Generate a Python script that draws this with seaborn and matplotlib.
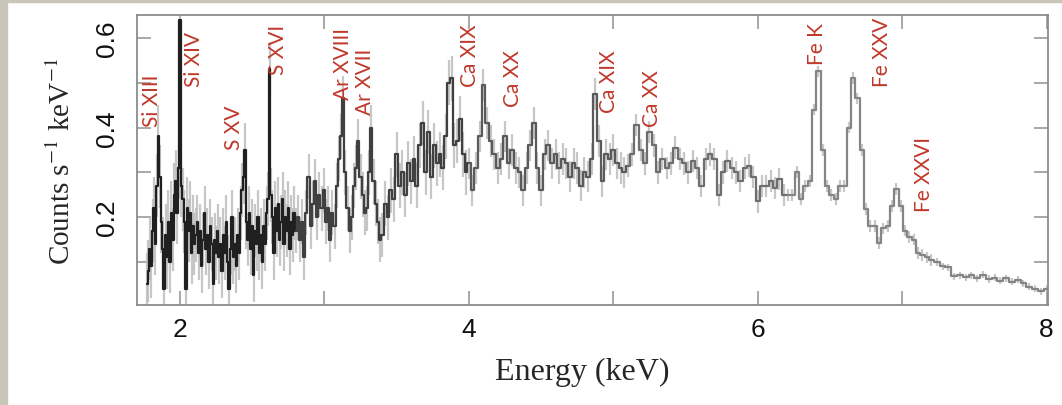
import numpy as np
import pandas as pd
import matplotlib
matplotlib.use("Agg")
import matplotlib.pyplot as plt
import seaborn as sns
from matplotlib.patches import Rectangle

# ---------------- data ----------------
energy_a = [1.77, 1.78, 1.79, 1.80, 1.81, 1.82, 1.83, 1.84, 1.85, 1.86, 1.87, 1.88,
            1.89, 1.90, 1.91, 1.92, 1.93, 1.94, 1.95, 1.96, 1.97, 1.98, 1.99, 2.00,
            2.01, 2.02, 2.03, 2.04, 2.05, 2.06, 2.07, 2.08, 2.09, 2.10]
counts_a = [0.05, 0.08, 0.13, 0.09, 0.17, 0.22, 0.14, 0.27, 0.38, 0.29, 0.19, 0.13,
            0.04, 0.16, 0.11, 0.19, 0.10, 0.21, 0.15, 0.25, 0.28, 0.21, 0.31, 0.64,
            0.27, 0.24, 0.19, 0.04, 0.22, 0.17, 0.21, 0.12, 0.18, 0.14]

energy_b = [2.11, 2.12, 2.13, 2.14, 2.15, 2.16, 2.17, 2.18, 2.19, 2.20, 2.21, 2.22,
            2.23, 2.24, 2.25, 2.26, 2.27, 2.28, 2.29, 2.30, 2.31, 2.32, 2.33, 2.34,
            2.35, 2.36, 2.37, 2.38, 2.39, 2.40, 2.41, 2.42, 2.43, 2.44, 2.45, 2.46,
            2.47, 2.48, 2.49, 2.50, 2.51, 2.52, 2.53, 2.54, 2.55, 2.56, 2.57, 2.58,
            2.59, 2.60, 2.61, 2.62, 2.63, 2.64, 2.65, 2.66, 2.67, 2.68, 2.69, 2.70,
            2.71, 2.72, 2.73, 2.74, 2.75, 2.76, 2.77, 2.78, 2.79]
counts_b = [0.16, 0.19, 0.12, 0.17, 0.09, 0.15, 0.21, 0.13, 0.16, 0.10, 0.18, 0.14,
            0.05, 0.15, 0.12, 0.17, 0.11, 0.14, 0.08, 0.16, 0.12, 0.19, 0.10, 0.04,
            0.13, 0.20, 0.11, 0.14, 0.09, 0.16, 0.12, 0.21, 0.26, 0.29, 0.35, 0.19,
            0.15, 0.21, 0.13, 0.18, 0.07, 0.17, 0.14, 0.20, 0.12, 0.16, 0.10, 0.18,
            0.14, 0.21, 0.24, 0.53, 0.25, 0.20, 0.12, 0.22, 0.17, 0.23, 0.15, 0.19,
            0.24, 0.14, 0.20, 0.17, 0.22, 0.13, 0.19, 0.16, 0.21]

energy_c = [2.800, 2.815, 2.830, 2.845, 2.860, 2.875, 2.890, 2.905, 2.920, 2.935,
            2.950, 2.965, 2.980, 2.995, 3.010, 3.025, 3.040, 3.055, 3.070, 3.085,
            3.100, 3.115, 3.130, 3.145, 3.160, 3.175, 3.190, 3.205, 3.220, 3.235,
            3.250, 3.265, 3.280, 3.295, 3.310, 3.325, 3.340, 3.355, 3.370, 3.385,
            3.400, 3.42, 3.44, 3.46, 3.48, 3.50, 3.52, 3.54, 3.56, 3.58, 3.60, 3.62,
            3.64, 3.66, 3.68, 3.70, 3.72, 3.74, 3.76, 3.78, 3.80, 3.82, 3.84, 3.86,
            3.88, 3.90, 3.92, 3.94, 3.96, 3.98]
counts_c = [0.17, 0.20, 0.15, 0.19, 0.11, 0.21, 0.29, 0.18, 0.23, 0.28,
            0.20, 0.25, 0.22, 0.26, 0.19, 0.22, 0.15, 0.21, 0.18, 0.27,
            0.33, 0.38, 0.465, 0.30, 0.22, 0.17, 0.20, 0.27, 0.31, 0.37,
            0.29, 0.25, 0.21, 0.22, 0.30, 0.40, 0.28, 0.23, 0.19, 0.15,
            0.16, 0.23, 0.20, 0.26, 0.24, 0.34, 0.27, 0.30, 0.25, 0.32, 0.28, 0.33,
            0.27, 0.36, 0.41, 0.30, 0.39, 0.29, 0.36, 0.32, 0.34, 0.31, 0.38, 0.50,
            0.51, 0.36, 0.37, 0.42, 0.34, 0.30]

energy_d = [4.000, 4.025, 4.050, 4.075, 4.100, 4.125, 4.150, 4.175, 4.200, 4.225,
            4.250, 4.275, 4.300, 4.325, 4.350, 4.375, 4.400, 4.425, 4.450, 4.475,
            4.500, 4.525, 4.550, 4.575, 4.600, 4.625, 4.650, 4.675, 4.700, 4.725,
            4.750, 4.775, 4.800, 4.825, 4.850, 4.875, 4.900, 4.925, 4.950, 4.975,
            5.000, 5.025, 5.050, 5.075]
counts_d = [0.32, 0.26, 0.31, 0.38, 0.495, 0.41, 0.37, 0.34, 0.31, 0.33,
            0.38, 0.32, 0.35, 0.31, 0.30, 0.26, 0.31, 0.36, 0.41, 0.31,
            0.26, 0.34, 0.36, 0.32, 0.34, 0.31, 0.33, 0.32, 0.29, 0.32,
            0.31, 0.27, 0.30, 0.29, 0.33, 0.475, 0.37, 0.28, 0.34, 0.33,
            0.35, 0.32, 0.31, 0.30]

energy_e = [5.10, 5.13, 5.16, 5.19, 5.22, 5.25, 5.28, 5.31, 5.34, 5.37, 5.40, 5.43,
            5.46, 5.49, 5.52, 5.55, 5.58, 5.61, 5.64, 5.67, 5.70, 5.73, 5.76, 5.79,
            5.82, 5.85, 5.88, 5.91, 5.94, 5.97, 6.00, 6.03, 6.06, 6.09, 6.12, 6.15,
            6.18]
counts_e = [0.315, 0.34, 0.405, 0.35, 0.32, 0.39, 0.36, 0.30, 0.33, 0.31, 0.32, 0.355,
            0.33, 0.32, 0.30, 0.325, 0.31, 0.27, 0.33, 0.34, 0.33, 0.25, 0.30, 0.325,
            0.31, 0.30, 0.28, 0.31, 0.315, 0.29, 0.235, 0.27, 0.27, 0.28, 0.265, 0.285,
            0.25]

energy_f = [6.21, 6.24, 6.27, 6.30, 6.33, 6.36, 6.39, 6.42, 6.45, 6.48, 6.51, 6.54,
            6.57, 6.60, 6.63, 6.66, 6.69, 6.72, 6.75, 6.78, 6.81, 6.84, 6.87, 6.90,
            6.93, 6.96, 6.99, 7.02, 7.05, 7.08, 7.11, 7.14, 7.17, 7.20]
counts_f = [0.25, 0.25, 0.30, 0.24, 0.27, 0.28, 0.44, 0.525, 0.35, 0.27, 0.25, 0.24,
            0.27, 0.27, 0.40, 0.51, 0.465, 0.35, 0.218, 0.18, 0.18, 0.143, 0.175, 0.18,
            0.225, 0.263, 0.225, 0.17, 0.155, 0.15, 0.12, 0.115, 0.11, 0.105]

energy_g = [7.24, 7.28, 7.32, 7.36, 7.40, 7.44, 7.48, 7.52, 7.56, 7.60, 7.64, 7.68,
            7.72, 7.76, 7.80, 7.84, 7.88, 7.92, 7.96, 8.00]
counts_g = [0.10, 0.09, 0.088, 0.068, 0.07, 0.066, 0.07, 0.064, 0.072, 0.062, 0.065, 0.058,
            0.064, 0.056, 0.06, 0.052, 0.045, 0.04, 0.035, 0.04]

# typical error-bar half-length in each energy range
segment_names = ["a", "b", "c", "d", "e", "f", "g"]
segment_errors = [0.07, 0.06, 0.05, 0.035, 0.025, 0.013, 0.008]

# line annotations
line_labels = ["Si XIII", "Si XIV", "S XV", "S XVI", "Ar XVIII", "Ar XVII",
               "Ca XIX", "Ca XX", "Ca XIX", "Ca XX", "Fe K", "Fe XXV", "Fe XXVI"]
line_label_x = [1.806, 2.097, 2.377, 2.675, 3.125, 3.278,
                4.005, 4.306, 4.967, 5.269, 6.411, 6.858, 7.152]
line_label_y = [0.404, 0.492, 0.352, 0.520, 0.464, 0.430,
                0.493, 0.448, 0.435, 0.404, 0.542, 0.493, 0.214]

x_ticks = [2, 4, 6, 8]
x_tick_labels = ["2", "4", "6", "8"]
y_ticks = [0.2, 0.4, 0.6]
y_tick_labels = ["0.2", "0.4", "0.6"]

# ---------------- build table ----------------
seg_energy = [energy_a, energy_b, energy_c, energy_d, energy_e, energy_f, energy_g]
seg_counts = [counts_a, counts_b, counts_c, counts_d, counts_e, counts_f, counts_g]
frames = []
for name, e, c, err in zip(segment_names, seg_energy, seg_counts, segment_errors):
    frames.append(pd.DataFrame({"energy": e, "counts": c, "err": err, "seg": name}))
spec = pd.concat(frames, ignore_index=True)

line_colors = {"a": "#202020", "b": "#202020", "c": "#404040", "d": "#5a5a5a",
               "e": "#6e6e6e", "f": "#858585", "g": "#858585"}

# ---------------- figure ----------------
sns.set_style("white")
plt.rcParams["font.family"] = ["Liberation Sans", "DejaVu Sans"]
plt.rcParams["mathtext.fontset"] = "stix"

fig = plt.figure(figsize=(10.62, 4.06), dpi=100)
frame_col = "#c8c6b9"
fig.patches.append(Rectangle((0, 0), 7 / 1062, 1, transform=fig.transFigure,
                             color=frame_col, zorder=-5))
fig.patches.append(Rectangle((0, 1 - 3 / 406), 1, 3 / 406, transform=fig.transFigure,
                             color=frame_col, zorder=-5))

ax = fig.add_axes([136.7 / 1062, 100 / 406, 911.3 / 1062, 290 / 406])

# error bars
ax.vlines(spec["energy"], spec["counts"] - spec["err"], spec["counts"] + spec["err"],
          colors="#bdbdbd", lw=1.6, alpha=0.85, zorder=1)

# step line, segment by segment (each joined to the next)
for i, name in enumerate(segment_names):
    part = spec[spec["seg"] == name]
    if i + 1 < len(segment_names):
        nxt = spec[spec["seg"] == segment_names[i + 1]].iloc[:1]
        part = pd.concat([part, nxt])
    sns.lineplot(data=part, x="energy", y="counts", drawstyle="steps-mid",
                 color=line_colors[name], lw=1.6, estimator=None, sort=False,
                 ax=ax, zorder=3)

red = "#c0392b"
for lab, lx, ly in zip(line_labels, line_label_x, line_label_y):
    ax.text(lx, ly, lab, rotation=90, ha="center", va="bottom", color=red,
            fontsize=15, family=["Lato", "DejaVu Sans"], zorder=5)

ax.set_xlim(1.70, 8.01)
ax.set_ylim(0.004, 0.651)
ax.set_xticks(x_ticks)
ax.set_xticklabels(x_tick_labels)
ax.set_xticks([3, 5, 7], minor=True)
ax.set_yticks(y_ticks)
ax.set_yticklabels(y_tick_labels)
ax.set_yticks([0.1, 0.3, 0.5], minor=True)

ax.tick_params(which="both", direction="in", length=10, width=1.2, color="#9a9a9a",
               top=True, right=True, bottom=True, left=True)
ax.tick_params(axis="x", which="major", labelsize=19, pad=9, labelcolor="#111111")
ax.tick_params(axis="y", which="major", labelsize=19, pad=13, labelrotation=90,
               labelcolor="#111111")
for lbl in ax.get_yticklabels():
    lbl.set_va("center")

for sp in ax.spines.values():
    sp.set_color("#8c8c8c")
    sp.set_linewidth(1.3)

ax.set_xlabel("Energy (keV)", fontsize=23, family=["Liberation Serif", "DejaVu Serif"])
ax.set_ylabel(r"Counts s$^{-1}$ keV$^{-1}$", fontsize=21,
              family=["Liberation Serif", "DejaVu Serif"])
ax.xaxis.set_label_coords(0.4886, -0.179)
ax.yaxis.set_label_coords(-0.0666, 0.5)

fig.savefig("out.png", dpi=100)
